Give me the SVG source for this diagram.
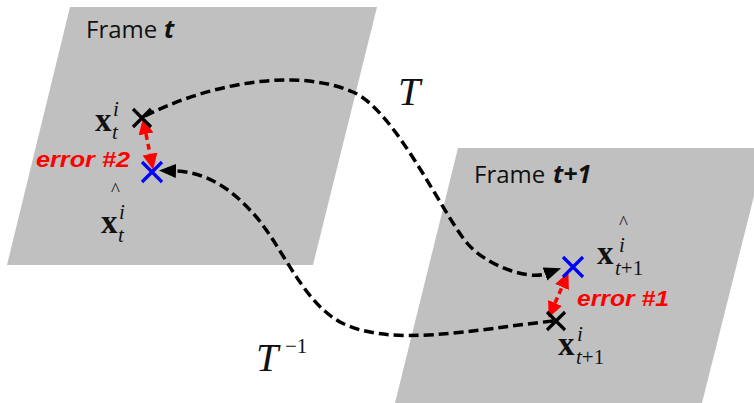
<svg xmlns="http://www.w3.org/2000/svg" width="754" height="403" viewBox="0 0 754 403">
<defs>
<style>
.frame{fill:#c0c0c0;stroke:none}
.ftxt{font-family:"Open Sans","Noto Sans",sans-serif;font-size:24px;fill:#111}
.fvar{font-family:"Open Sans","Noto Sans",sans-serif;font-size:25px;font-weight:bold;font-style:italic;fill:#111}
.xb{font-family:"Liberation Serif",serif;font-size:33px;font-weight:bold;fill:#111}
.sc{font-family:"Liberation Serif",serif;font-size:21px;font-style:italic;fill:#111}
.scr{font-family:"Liberation Serif",serif;font-size:21px;fill:#111}
.hat{font-family:"Liberation Serif",serif;font-size:19px;fill:#111}
.bigT{font-family:"Liberation Serif",serif;font-size:40px;font-style:italic;fill:#111}
.err{font-family:"Liberation Sans",sans-serif;font-size:22px;font-weight:bold;font-style:italic;fill:#ff0000}
.curve{fill:none;stroke:#000;stroke-width:3.5;stroke-dasharray:10 5}
.red{fill:none;stroke:#ff0000;stroke-width:3.5;stroke-dasharray:6 4}
.kx{stroke:#000;stroke-width:3.2;fill:none}
.bx{stroke:#0000ff;stroke-width:3.2;fill:none}
</style>
<marker id="ah" markerUnits="userSpaceOnUse" viewBox="0 -8 18 16" refX="0" refY="0" markerWidth="18" markerHeight="16" orient="auto">
<path d="M0,-7 L17,0 L0,7 z" fill="#000"/>
</marker>
<marker id="rh" markerUnits="userSpaceOnUse" viewBox="0 -8 17 16" refX="0" refY="0" markerWidth="17" markerHeight="16" orient="auto-start-reverse">
<path d="M0,-7.5 L16,0 L0,7.5 z" fill="#ff0000"/>
</marker>
</defs>

<g id="frame-t">
<polygon class="frame" points="70,7 377,7 313,265 7,265"/>
<text class="ftxt" x="86" y="38">Frame</text>
<text class="fvar" x="164" y="38">t</text>
</g>

<g id="frame-t1">
<polygon class="frame" points="458,148 766,148 702,403 395,403"/>
<text class="ftxt" x="474" y="183">Frame</text>
<text class="fvar" x="553" y="183">t+1</text>
</g>

<g id="connectors">
<path id="T" class="curve" d="M145,116 C200,88 290,65 353,92 C395,110 442,213 467,243 C485,265 528,280 545,274" marker-end="url(#ah)"/>
<path id="Tinv" class="curve" d="M553,321 C470,330 390,348 340,322 C300,300 280,240 250,210 C230,188 205,172 176,171" marker-end="url(#ah)"/>
<path id="err2" class="red" d="M146,134 L150,154" marker-start="url(#rh)" marker-end="url(#rh)"/>
<path id="err1" class="red" d="M555,303 L562,287" marker-start="url(#rh)" marker-end="url(#rh)"/>
</g>

<g id="pt-xt">
<path class="kx" d="M133,109 L151,127 M151,109 L133,127"/>
<text class="xb" x="95" y="131">x</text>
<text class="sc" x="113" y="116">i</text>
<text class="sc" x="112" y="139">t</text>
</g>

<g id="pt-xt-hat">
<path class="bx" d="M142,162 L162,182 M162,162 L142,182"/>
<text class="hat" x="111" y="196">^</text>
<text class="xb" x="101" y="233">x</text>
<text class="sc" x="119" y="219">i</text>
<text class="sc" x="118" y="242">t</text>
</g>

<g id="pt-xt1-hat">
<path class="bx" d="M563,257 L583,277 M583,257 L563,277"/>
<text class="hat" x="619" y="229">^</text>
<text class="xb" x="597" y="264">x</text>
<text class="sc" x="619" y="252">i</text>
<text x="615" y="275"><tspan class="sc">t</tspan><tspan class="scr">+1</tspan></text>
</g>

<g id="pt-xt1">
<path class="kx" d="M547,312 L565,330 M565,312 L547,330"/>
<text class="xb" x="558" y="355">x</text>
<text class="sc" x="577" y="341">i</text>
<text x="576" y="364"><tspan class="sc">t</tspan><tspan class="scr">+1</tspan></text>
</g>

<g id="labels">
<text class="bigT" x="398" y="105">T</text>
<text class="bigT" x="256" y="371">T</text>
<text class="scr" x="285" y="353">−1</text>
<text class="err" x="36" y="167" textLength="94" lengthAdjust="spacingAndGlyphs">error #2</text>
<text class="err" x="577" y="306" textLength="92" lengthAdjust="spacingAndGlyphs">error #1</text>
</g>
</svg>
